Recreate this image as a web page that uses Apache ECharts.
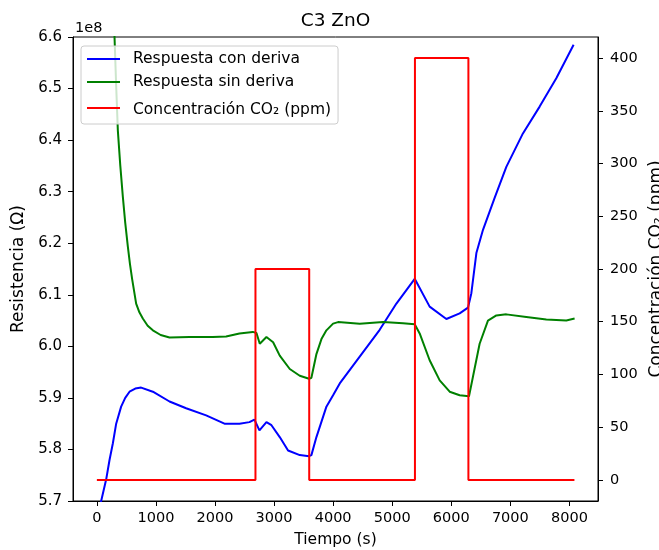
<!DOCTYPE html>
<html>
<head>
<meta charset="utf-8">
<script src="https://cdn.jsdelivr.net/npm/echarts@6/dist/echarts.min.js"></script>
<style>
  html, body { margin: 0; padding: 0; background: #fff; }
  #chart { width: 659px; height: 550px; }
</style>
</head>
<body>
<div id="chart"></div>
<script>
  // Resistencia en unidades de 1e8 Ω
  const tiempoConDeriva = [0, 73, 158, 215, 271, 327, 411, 480, 553, 650, 750, 948, 1230, 1511, 1850, 2160, 2414, 2583, 2668, 2700, 2752, 2871, 2956, 3096, 3237, 3435, 3593, 3632, 3717, 3886, 3999, 4112, 4450, 4788, 5071, 5381, 5634, 5917, 6142, 6283, 6340, 6425, 6537, 6734, 6932, 7213, 7496, 7778, 8071];
  const resConDeriva = [5.665, 5.700, 5.742, 5.780, 5.812, 5.850, 5.883, 5.900, 5.912, 5.918, 5.920, 5.912, 5.893, 5.880, 5.866, 5.850, 5.850, 5.853, 5.858, 5.857, 5.837, 5.853, 5.847, 5.824, 5.798, 5.789, 5.787, 5.789, 5.824, 5.883, 5.905, 5.928, 5.980, 6.032, 6.083, 6.131, 6.077, 6.053, 6.064, 6.075, 6.103, 6.181, 6.226, 6.288, 6.348, 6.413, 6.465, 6.520, 6.585];

  const tiempoSinDeriva = [0, 150, 299, 327, 355, 397, 440, 480, 525, 560, 598, 665, 720, 778, 860, 948, 1080, 1230, 1568, 1963, 2188, 2414, 2640, 2702, 2758, 2871, 2984, 3096, 3266, 3435, 3593, 3632, 3717, 3802, 3886, 3999, 4083, 4450, 4845, 5183, 5381, 5465, 5634, 5804, 5973, 6142, 6300, 6367, 6480, 6621, 6763, 6932, 7270, 7609, 7947, 8088];
  const resSinDeriva = [8.0, 7.2, 6.600, 6.505, 6.419, 6.350, 6.290, 6.240, 6.193, 6.160, 6.130, 6.083, 6.066, 6.054, 6.040, 6.031, 6.022, 6.017, 6.018, 6.018, 6.019, 6.025, 6.028, 6.026, 6.005, 6.018, 6.008, 5.982, 5.956, 5.943, 5.937, 5.939, 5.985, 6.014, 6.031, 6.044, 6.047, 6.044, 6.047, 6.045, 6.043, 6.025, 5.973, 5.934, 5.912, 5.905, 5.903, 5.941, 6.005, 6.050, 6.060, 6.062, 6.057, 6.052, 6.050, 6.054];

  const tiempoCO2 = [0, 2685, 2685, 3595, 3595, 5385, 5385, 6290, 6290, 8085];
  const ppmCO2 = [0, 0, 200, 200, 0, 0, 400, 400, 0, 0];

  const ticksTiempo = [0, 1000, 2000, 3000, 4000, 5000, 6000, 7000, 8000];
  const ticksRes = [5.7, 5.8, 5.9, 6.0, 6.1, 6.2, 6.3, 6.4, 6.5, 6.6];
  const ticksPpm = [0, 50, 100, 150, 200, 250, 300, 350, 400];

  const font = 'DejaVu Sans';
  const zip = (xs, ys) => xs.map((x, i) => [x, ys[i]]);
  const co2Name = 'Concentración CO₂ (ppm)';

  const chart = echarts.init(document.getElementById('chart'));
  chart.setOption({
    animation: false,
    textStyle: { fontFamily: font },
    grid: { left: 73, right: 61, top: 37, bottom: 49, containLabel: false, outerBoundsMode: 'none',
      show: true, borderColor: '#000', borderWidth: 1, backgroundColor: 'transparent' },
    graphic: [
      { type: 'text', x: 335.5, y: 21, style: { text: 'C3 ZnO', fill: '#000', font: '18.5px "DejaVu Sans"', align: 'center', verticalAlign: 'middle' } },
      { type: 'text', x: 75, y: 28, style: { text: '1e8', fill: '#000', font: '14.5px "DejaVu Sans"', align: 'left', verticalAlign: 'middle' } }
    ],
    legend: {
      orient: 'vertical', left: 81, top: 46,
      padding: [5, 7, 5, 6], itemGap: 7,
      itemWidth: 33, itemHeight: 2, icon: 'rect',
      backgroundColor: 'rgba(255,255,255,0.8)', borderColor: '#cccccc', borderWidth: 1, borderRadius: 3,
      textStyle: { fontFamily: font, fontSize: 15.5, color: '#000', lineHeight: 16, padding: [0, 0, 0, 8],
        rich: { co: { fontFamily: font, fontSize: 15.5, color: '#000', lineHeight: 22, padding: [4, 0, 0, 0] } } },
      formatter: (name) => name === co2Name ? '{co|' + name + '}' : name,
      data: ['Respuesta con deriva', 'Respuesta sin deriva', co2Name]
    },
    xAxis: {
      type: 'value', min: -404, max: 8484,
      name: 'Tiempo (s)', nameLocation: 'middle', nameGap: 31,
      nameTextStyle: { fontFamily: font, fontSize: 15.5, color: '#000' },
      axisLine: { show: true, onZero: false, lineStyle: { color: '#000', width: 1 } },
      axisTick: { show: true, length: 5, lineStyle: { color: '#000' }, customValues: ticksTiempo },
      axisLabel: { color: '#000', fontSize: 14.5, fontFamily: font, margin: 10, customValues: ticksTiempo, formatter: (v) => String(v) },
      splitLine: { show: false }
    },
    yAxis: [
      {
        type: 'value', position: 'left', min: 5.7, max: 6.6,
        name: 'Resistencia (Ω)', nameLocation: 'middle', nameGap: 41, nameRotate: 90,
        nameTextStyle: { fontFamily: font, fontSize: 17, color: '#000' },
        axisLine: { show: true, onZero: false, lineStyle: { color: '#000', width: 1 } },
        axisTick: { show: true, length: 5, lineStyle: { color: '#000' }, customValues: ticksRes },
        axisLabel: { color: '#000', fontSize: 15, fontFamily: font, margin: 11, customValues: ticksRes, formatter: (v) => v.toFixed(1) },
        splitLine: { show: false }
      },
      {
        type: 'value', position: 'right', min: -20, max: 420,
        name: co2Name, nameLocation: 'middle', nameGap: 50, nameRotate: 90,
        nameTextStyle: { fontFamily: font, fontSize: 17, color: '#000' },
        axisLine: { show: true, onZero: false, lineStyle: { color: '#000', width: 1 } },
        axisTick: { show: true, length: 5, lineStyle: { color: '#000' }, customValues: ticksPpm },
        axisLabel: { color: '#000', fontSize: 14.5, fontFamily: font, margin: 12, customValues: ticksPpm, formatter: (v) => String(v) },
        splitLine: { show: false }
      }
    ],
    series: [
      { name: 'Respuesta con deriva', type: 'line', yAxisIndex: 0, data: zip(tiempoConDeriva, resConDeriva), showSymbol: false, clip: true,
        itemStyle: { color: '#0000ff' }, lineStyle: { color: '#0000ff', width: 2 } },
      { name: 'Respuesta sin deriva', type: 'line', yAxisIndex: 0, data: zip(tiempoSinDeriva, resSinDeriva), showSymbol: false, clip: true,
        itemStyle: { color: '#008000' }, lineStyle: { color: '#008000', width: 2 } },
      { name: co2Name, type: 'line', yAxisIndex: 1, data: zip(tiempoCO2, ppmCO2), showSymbol: false, clip: true,
        itemStyle: { color: '#ff0000' }, lineStyle: { color: '#ff0000', width: 2 } }
    ]
  });
</script>
</body>
</html>
